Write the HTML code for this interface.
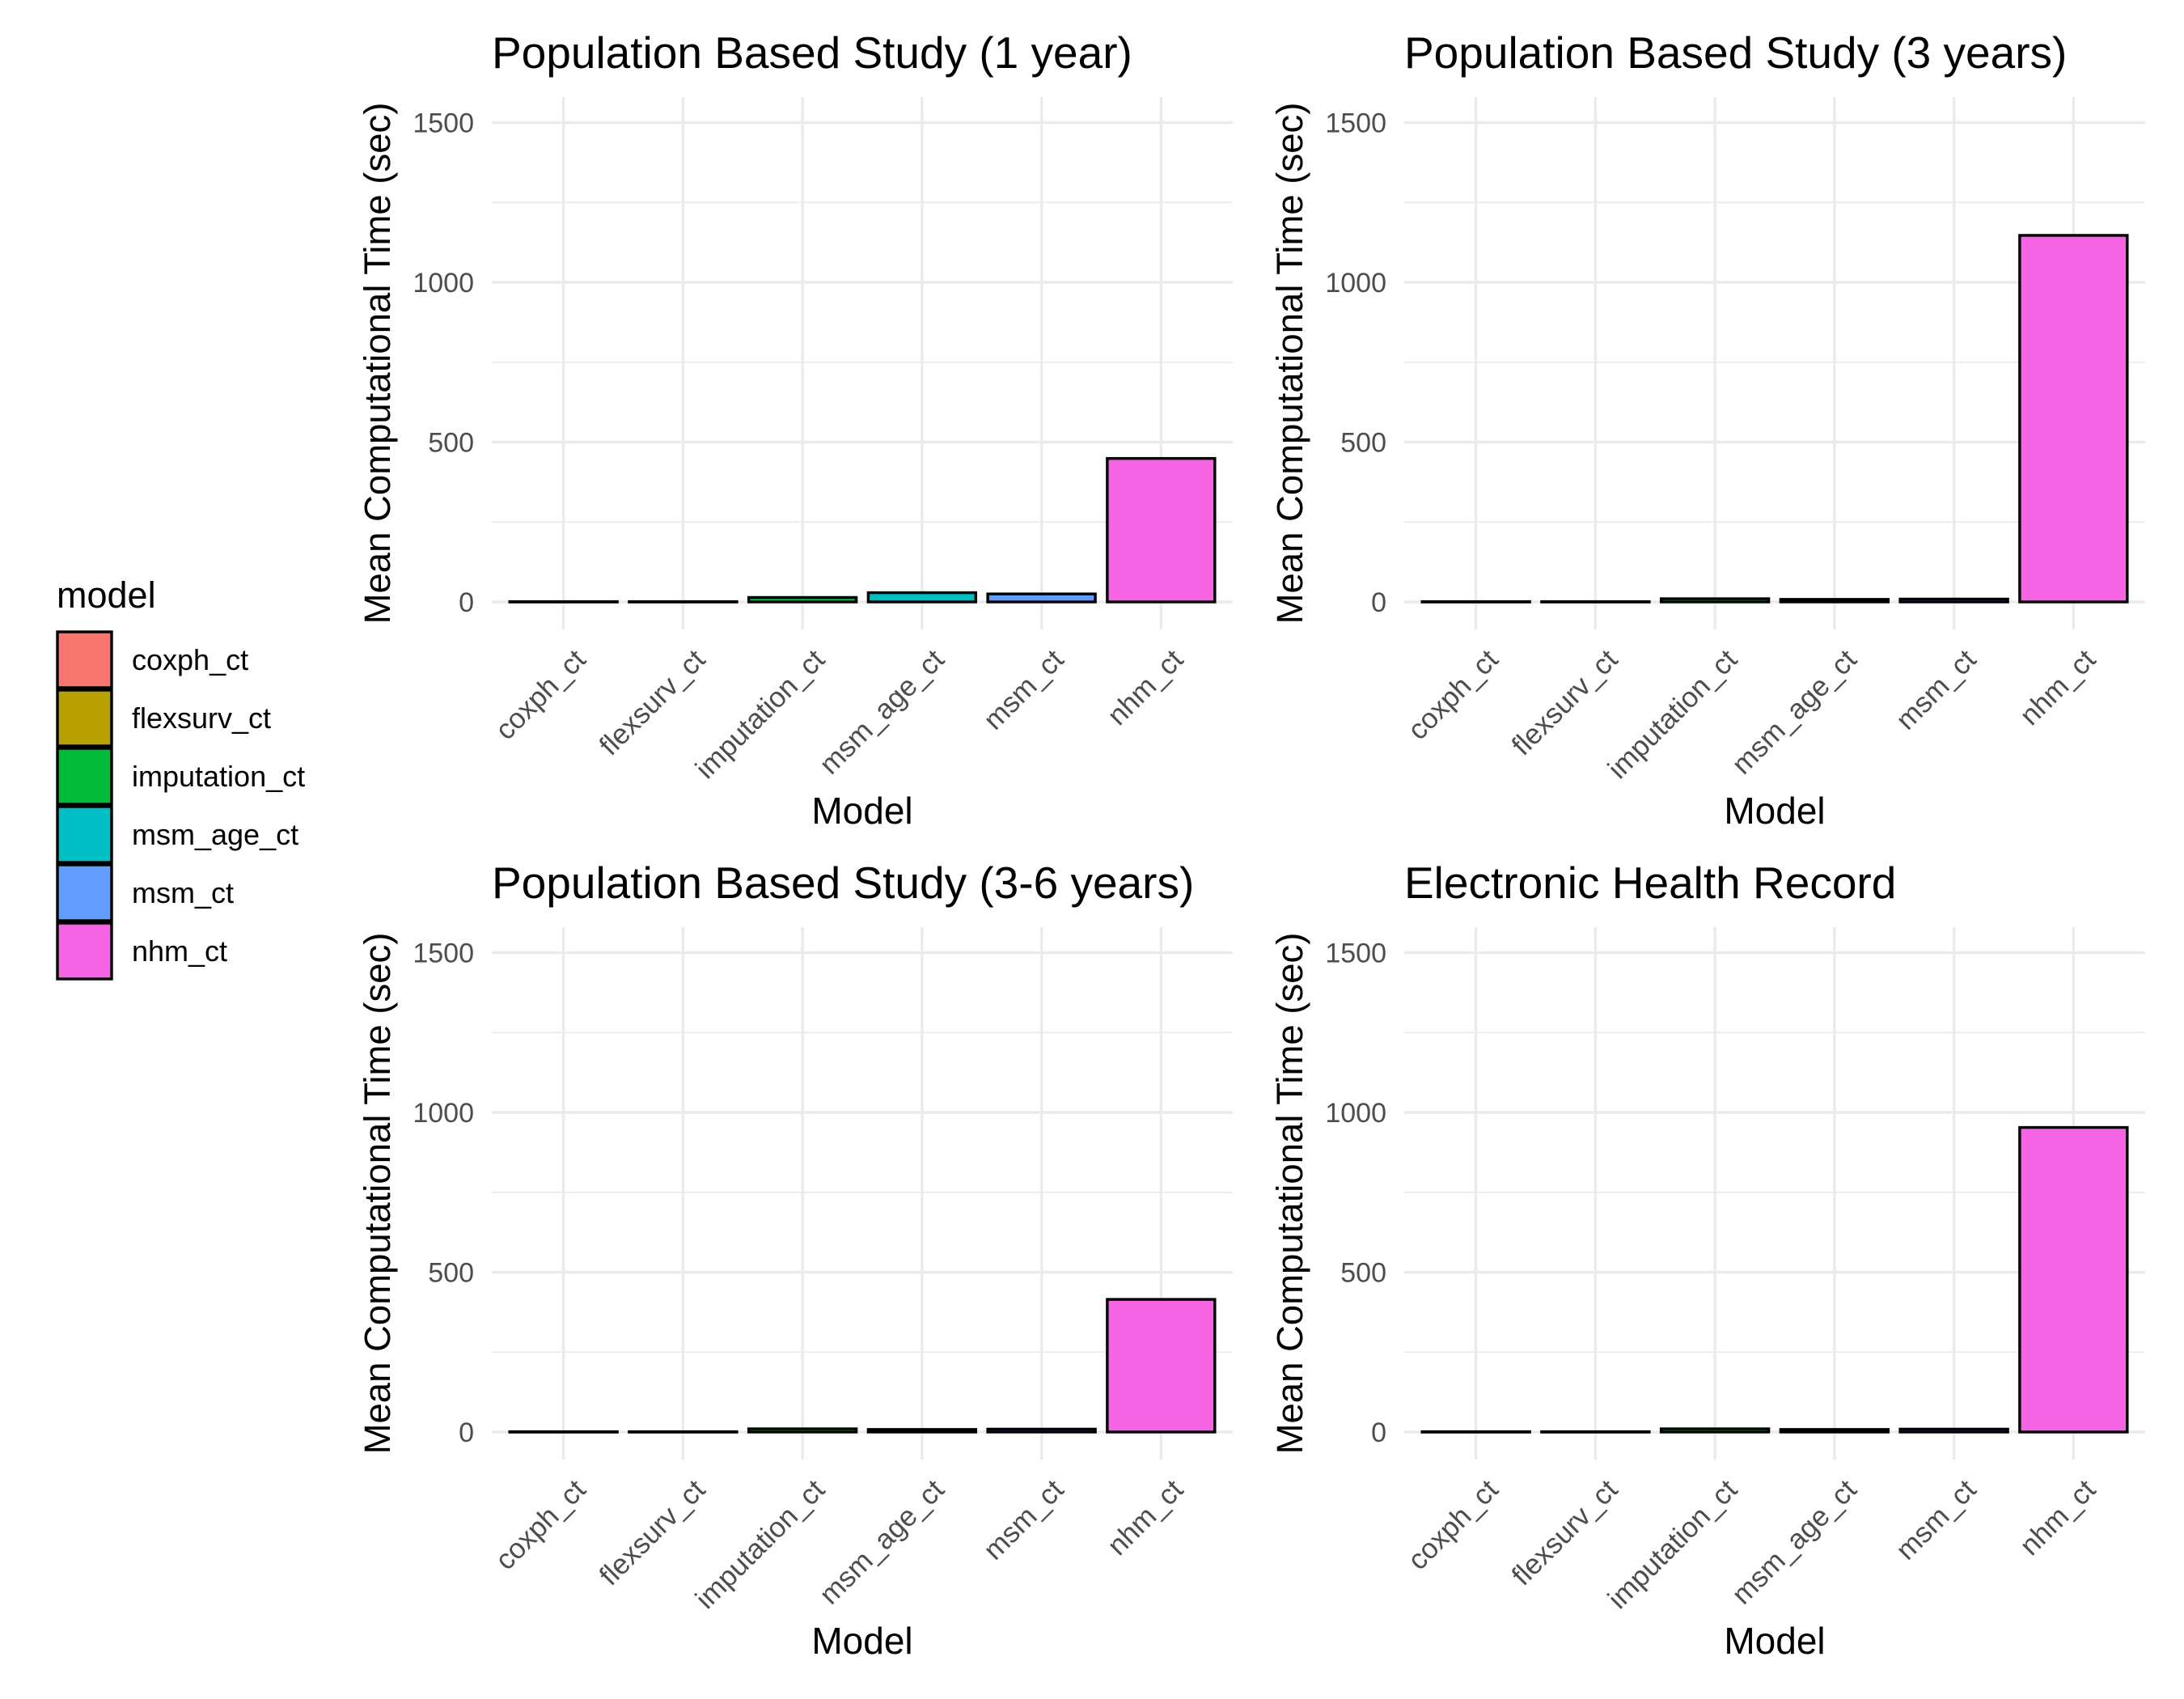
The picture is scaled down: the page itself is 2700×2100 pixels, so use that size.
<!DOCTYPE html>
<html><head><meta charset="utf-8"><style>
html,body{margin:0;padding:0;background:#fff}
svg{display:block;font-family:"Liberation Sans",Arial,sans-serif}
</style></head><body>
<svg id="chart" width="2700" height="2100" viewBox="0 0 2700 2100" xmlns="http://www.w3.org/2000/svg">
<g id="legend"></g>
</svg>
<script>
const categories = ["coxph_ct","flexsurv_ct","imputation_ct","msm_age_ct","msm_ct","nhm_ct"];
const colors = ["#F8766D","#B79F00","#00BA38","#00BFC4","#619CFF","#F564E3"];
const panelTitles = ["Population Based Study (1 year)","Population Based Study (3 years)","Population Based Study (3-6 years)","Electronic Health Record"];
const values1y = [1, 1, 14, 29, 25, 449];
const values3y = [1, 1, 10, 8, 9, 1147];
const values36y = [1, 1, 10, 8, 9, 415];
const valuesEHR = [1, 1, 10, 8, 9, 953];
const yTicks = [0, 500, 1000, 1500];
const yMinor = [250, 750, 1250];

const NS = "http://www.w3.org/2000/svg";
const svg = document.getElementById("chart");
function mk(tag, attrs, parent, text){
  const e = document.createElementNS(NS, tag);
  for (const k in attrs) e.setAttribute(k, attrs[k]);
  if (text !== undefined) e.textContent = text;
  parent.appendChild(e);
  return e;
}
const allValues = [values1y, values3y, values36y, valuesEHR];
const offsets = [[0,0],[1128,0],[0,1026],[1128,1026]];
const slugs = ["pbs-1-year","pbs-3-years","pbs-3-6-years","ehr"];

allValues.forEach((vals, p) => {
  const ox = offsets[p][0], oy = offsets[p][1];
  const left = 608 + ox, right = 1524 + ox, top = 120 + oy, bottom = 778 + oy;
  const step = (right - left) / (categories.length + 0.2);
  const xPos = i => left + step * (0.6 + i);
  const y0 = 744 + oy, pxPer = (744 - 151.5) / 1500;
  const yPos = v => y0 - v * pxPer;
  const g = mk("g", {}, svg);
  
  
  yMinor.forEach(v => {
    const l = mk("line", {x1:left, x2:right, y1:yPos(v), y2:yPos(v), stroke:"#EBEBEB", "stroke-width":1.7}, g);
    
    
  });
  yTicks.forEach(v => {
    const l = mk("line", {x1:left, x2:right, y1:yPos(v), y2:yPos(v), stroke:"#EBEBEB", "stroke-width":3.4}, g);
    
    
    const t = mk("text", {x:left - 22, y:yPos(v) + 12, "text-anchor":"end", "font-size":34, fill:"#4D4D4D"}, g, String(v));
    
    
  });
  categories.forEach((c, i) => {
    const l = mk("line", {x1:xPos(i), x2:xPos(i), y1:top, y2:bottom, stroke:"#EBEBEB", "stroke-width":3.4}, g);
    
    
  });
  categories.forEach((c, i) => {
    const w = step * 0.9;
    const h = Math.max(vals[i] * pxPer, 0.5);
    const r = mk("rect", {x:xPos(i) - w/2, y:yPos(vals[i]), width:w, height:h, fill:colors[i], stroke:"#000", "stroke-width":3.4}, g);
    
    
    const cx = xPos(i) + 12, cy = 800 + oy;
    const t = mk("text", {x:cx, y:cy, "text-anchor":"end", "font-size":35, fill:"#4D4D4D", transform:"rotate(-45 " + cx + " " + cy + ")", dy:"0.7em"}, g, c);
    
    
  });
  const tt = mk("text", {x:left, y:84 + oy, "font-size":55, fill:"#000"}, g, panelTitles[p]);
  
  
  const yx = 466 + ox, yy = 449 + oy;
  const yt = mk("text", {x:yx, y:yy, "text-anchor":"middle", "font-size":45.5, fill:"#000", transform:"rotate(-90 " + yx + " " + yy + ")", dy:"0.35em"}, g, "Mean Computational Time (sec)");
  
  
  const xt = mk("text", {x:(left + right) / 2, y:1018 + oy, "text-anchor":"middle", "font-size":46, fill:"#000"}, g, "Model");
  
  
});

const lg = document.getElementById("legend");
const lt = mk("text", {x:70, y:751, "font-size":45, fill:"#000"}, lg, "model");


categories.forEach((c, i) => {
  const y = 781 + i * 72;
  const r = mk("rect", {x:71, y:y, width:67, height:69, fill:colors[i], stroke:"#000", "stroke-width":3.4}, lg);
  
  
  const t = mk("text", {x:163, y:y + 47, "font-size":36, fill:"#000"}, lg, c);
  
  
});
</script>
</body></html>
